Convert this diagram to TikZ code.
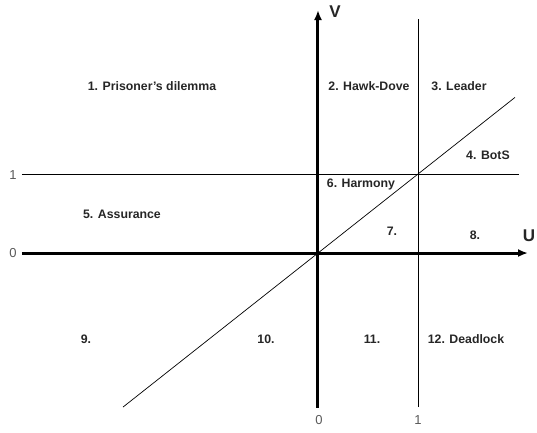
\documentclass[tikz,border=0pt]{standalone}
\usepackage{fontspec}
\setmainfont{Liberation Sans}
\usepackage{tikz}
\usetikzlibrary{arrows.meta,positioning,calc}

\begin{document}
\begin{tikzpicture}[
    x=100bp, y=79bp,
    axis/.style={line width=3bp, -{Latex[length=10bp,width=8bp]}},
    bound/.style={line width=0.8bp},
    region/.style={font=\fontsize{12.3bp}{14bp}\selectfont\bfseries, text=black!85},
    tick/.style={font=\fontsize{13bp}{15bp}\selectfont, text=black!65},
    axisname/.style={font=\fontsize{17bp}{19bp}\selectfont\bfseries, text=black!85}
]
    \useasboundingbox (-3.18,-2.278) rectangle (2.19,3.203);

    % boundaries u=1, v=1 and the diagonal u=v
    \coordinate (o) at (0,0);
    \draw [bound] (-2.96,1) -- (2.01,1);
    \draw [bound] (1,-1.95) -- (1,2.96);
    \draw [line width=0.7bp] (-1.95,-1.95) -- (1.97,1.97);

    % axes
    \draw [axis] (-2.96,0) -- (2.10,0);
    \draw [axis] (0,-1.96) -- (0,3.076);
    \node [axisname] (U) at (2.11,0.215) {U};
    \node [axisname] (V) at (0.17,3.05) {V};

    % ticks
    \node [tick] (t0v) at (-3.05,0) {0};
    \node [tick] (t1v) at (-3.05,0.99) {1};
    \node [tick] (t0u) at (0.01,-2.11) {0};
    \node [tick] (t1u) at (1.0,-2.11) {1};

    % the twelve regions
    \node [region] (r1) at (-1.66,2.114) {1. Prisoner's dilemma};
    \node [region] (r2) at (0.51,2.114) {2. Hawk-Dove};
    \node [region] (r3) at (1.41,2.114) {3. Leader};
    \node [region] (r4) at (1.70,1.24) {4. BotS};
    \node [region] (r5) at (-1.96,0.494) {5. Assurance};
    \node [region] (r6) at (0.43,0.873) {6. Harmony};
    \node [region] (r7) at (0.74,0.278) {7.};
    \node [region] (r8) at (1.57,0.23) {8.};
    \node [region] (r9) at (-2.32,-1.089) {9.};
    \node [region] (r10) at (-0.52,-1.089) {10.};
    \node [region] (r11) at (0.54,-1.089) {11.};
    \node [region] (r12) at (1.48,-1.089) {12. Deadlock};
\end{tikzpicture}
\end{document}
